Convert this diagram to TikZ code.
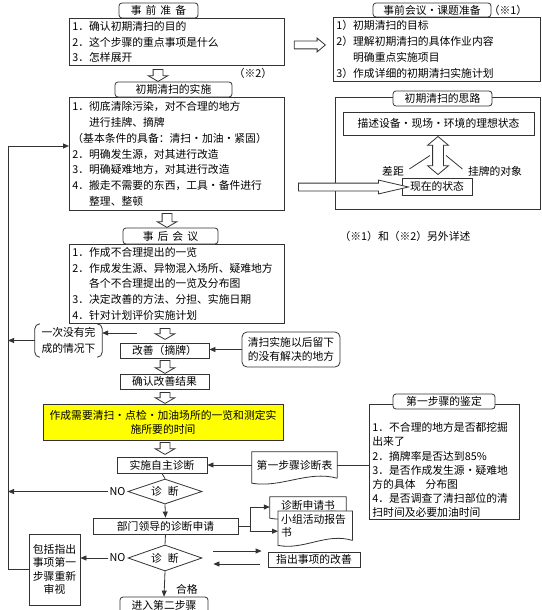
\documentclass[tikz,border=0pt]{standalone}
\usepackage{fontspec}
\setmainfont{Noto Sans CJK SC}
\usepackage{tikz}
\usetikzlibrary{arrows.meta,positioning,shapes.geometric,shapes.arrows,calc}
\definecolor{kzLine}{HTML}{333333}
\definecolor{kzYellow}{HTML}{FFFF00}
\tikzset{
  kzList/.style={
    draw=kzLine,
    line width=0.8pt,
    anchor=north west,
    align=left,
    inner xsep=3pt,
    inner ysep=0pt
  },
  kzTab/.style={
    draw=kzLine,
    line width=0.8pt,
    rounded corners=3pt,
    fill=white,
    inner sep=0pt
  },
  kzBox/.style={
    draw=kzLine,
    line width=0.8pt,
    align=center,
    inner sep=0pt
  },
  kzDecision/.style={
    diamond,
    draw=kzLine,
    line width=0.8pt,
    aspect=3,
    inner sep=0pt,
    minimum width=74pt,
    minimum height=25pt
  },
  kzSheet/.style={
    fill=white,
    inner sep=0pt
  },
  kzArrow/.style={
    -{Triangle[length=6pt,width=5pt]},
    line width=0.8pt,
    draw=kzLine
  },
  kzLink/.style={
    line width=0.8pt,
    draw=kzLine
  },
  kzHollow/.style={
    single arrow,
    draw=kzLine,
    line width=0.8pt,
    fill=white,
    inner xsep=0pt,
    single arrow head indent=0pt
  },
  kzDown/.style={
    kzHollow,
    rotate=-90,
    inner ysep=4.5pt,
    single arrow head extend=5pt,
    single arrow tip angle=120,
    minimum height=12pt
  },
  kzRight/.style={
    kzHollow,
    inner ysep=3.5pt,
    single arrow head extend=3pt
  },
  kzBoth/.style={
    double arrow,
    draw=kzLine,
    line width=0.8pt,
    fill=white,
    rotate=90,
    inner xsep=0pt,
    inner ysep=5pt,
    double arrow head extend=5pt,
    double arrow tip angle=100,
    minimum height=38pt
  }
}
\newcommand{\kzDoc}[1]{%
  \draw[kzLink] (#1.south east) -- (#1.north east) -- (#1.north west) -- ($(#1.south west)+(0,5)$)
    .. controls ($(#1.south west)!0.35!(#1.south east)+(0,10)$) and ($(#1.south west)!0.65!(#1.south east)+(0,-8)$) .. (#1.south east);}

\begin{document}
\begin{tikzpicture}[x=1pt, y=-1pt, font=\fontsize{10.8}{15.8}\selectfont]
  \useasboundingbox (0,0) rectangle (541,610);

  \node[kzList, text width=209pt, minimum height=47pt] (prep) at (69,18)
    {1．确认初期清扫的目的\\2．这个步骤的重点事项是什么\\3．怎样展开};
  \node[kzTab, minimum width=79pt, minimum height=15pt] (prepTab) at (158.5,10.5)
    {事\hspace{4pt}前\hspace{4pt}准\hspace{4pt}备};
  \node[kzDown] (prepArrow) at (158,74) {};
  \node (note2) at (253,73) {（※2）};

  \node[kzList, text width=209pt, minimum height=113pt] (impl) at (69,97)
    {1．彻底清除污染，对不合理的地方\\\phantom{1．}进行挂牌、摘牌\\（基本条件的具备：清扫・加油・紧固）\\2．明确发生源，对其进行改造\\3．明确疑难地方，对其进行改造\\4．搬走不需要的东西，工具・备件进行\\\phantom{1．}整理、整顿};
  \node[kzTab, minimum width=117pt, minimum height=15pt] (implTab) at (173.5,89.5) {初期清扫的实施};
  \node[kzDown, minimum height=14pt] (implArrow) at (167,219) {};

  \node[kzList, text width=209pt, minimum height=79pt] (after) at (69,244)
    {1．作成不合理提出的一览\\2．作成发生源、异物混入场所、疑难地方\\\phantom{1．}各个不合理提出的一览及分布图\\3．决定改善的方法、分担、实施日期\\4．针对计划评价实施计划};
  \node[kzTab, minimum width=95pt, minimum height=16pt] (afterTab) at (170.5,236)
    {事\hspace{4pt}后\hspace{4pt}会\hspace{4pt}议};

  \node[kzDown, minimum height=11pt] (afterArrow) at (165,332.5) {};
  \coordinate (branch) at (137,333);
  \node[align=center, inner sep=0pt, minimum width=67pt, minimum height=33pt] (incomplete) at (68.5,340.5)
    {一次没有完\\成的情况下};
  \node[kzBox, minimum width=89pt, minimum height=15pt] (kaizen) at (164.5,350.5) {改善（摘牌）};
  \node[kzBox, rounded corners=5pt, minimum width=98pt, minimum height=35pt, font=\fontsize{10.8}{13.5}\selectfont] (leftover) at (291,349.5)
    {清扫实施以后留下\\的没有解决的地方};
  \node[kzDown, minimum height=13pt] (kaizenArrow) at (165,365.5) {};
  \node[kzBox, minimum width=89pt, minimum height=15pt] (check) at (164.5,381.5) {确认改善结果};
  \node[kzDown, minimum height=11pt] (checkArrow) at (165,396.5) {};
  \node[kzBox, fill=kzYellow, minimum width=240pt, minimum height=36pt, font=\fontsize{10.8}{14}\selectfont] (list) at (163,422)
    {作成需要清扫・点检・加油场所的一览和测定实\\施所要的时间};
  \node[kzDown, minimum height=12pt] (listArrow) at (165,447) {};

  \node[kzBox, minimum width=90pt, minimum height=16pt] (self) at (162,465) {实施自主诊断};
  \node[kzDecision] (diagA) at (165,491.5) {诊\hspace{6pt}断};
  \node[left=1pt of diagA.west, inner sep=1pt] (noA) {NO};
  \node[kzBox, minimum width=145pt, minimum height=16pt] (leader) at (165.5,526) {部门领导的诊断申请};
  \node[kzDecision, minimum height=26pt] (diagB) at (165,558) {诊\hspace{6pt}断};
  \node[left=1pt of diagB.west, inner sep=1pt] (noB) {NO};
  \node[kzBox, rounded corners=3pt, minimum width=88pt, minimum height=16pt] (next) at (164,605) {进入第二步骤};
  \node[kzBox, minimum width=51pt, minimum height=71pt, font=\fontsize{10.8}{13.5}\selectfont] (review) at (54.5,569.5)
    {包括指出\\事项第一\\步骤重新\\审视};

  \node[kzRight, minimum height=31pt, single arrow tip angle=80] (meetArrow) at (307.5,45) {};
  \node[kzList, text width=201pt, minimum height=64pt] (meet) at (333,17)
    {1）初期清扫的目标\\2）理解初期清扫的具体作业内容\\\phantom{2）}明确重点实施项目\\3）作成详细的初期清扫实施计划};
  \node[kzTab, minimum width=118pt, minimum height=14pt] (meetTab) at (432,10) {事前会议・课题准备};
  \node (note1) at (508,10) {（※1）};

  \node[kzLink, draw, anchor=north west, inner sep=0pt, minimum width=205pt, minimum height=112pt] (idea) at (335,97) {};
  \node[kzTab, minimum width=99pt, minimum height=15pt] (ideaTab) at (442.5,98.5) {初期清扫的思路};
  \node[kzBox, minimum width=191pt, minimum height=23pt] (ideal) at (438.5,123.5) {描述设备・现场・环境的理想状态};
  \node[kzBoth] (gapArrow) at (438,155.5) {};
  \node[kzBox, minimum width=70pt, minimum height=17pt] (now) at (437,186.5) {现在的状态};
  \node (gap) at (393,171) {差距};
  \node (tag) at (495,171) {挂牌的对象};
  \node[kzRight, minimum height=110pt, single arrow tip angle=26] (nowArrow) at (345,187) {};
  \node (note) at (405,236) {（※1）和（※2）另外详述};

  \node[kzList, text width=144pt, minimum height=115pt, font=\fontsize{10.8}{14.2}\selectfont] (judge) at (369,404)
    {\rule{0pt}{25.5pt}1．不合理的地方是否都挖掘\\出来了\\2．摘牌率是否达到85\%\\3．是否作成发生源・疑难地\\方的具体\hspace{10pt}分布图\\4．是否调查了清扫部位的清\\扫时间及必要加油时间};
  \node[kzTab, minimum width=102pt, minimum height=15pt] (judgeTab) at (444,401.5) {第一步骤的鉴定};

  \node[kzSheet, minimum width=85pt, minimum height=26pt] (sheet) at (294.5,465) {第一步骤诊断表};
  \kzDoc{sheet}
  \node[kzSheet, minimum width=76pt, minimum height=16pt] (req) at (308,505) {诊断申请书};
  \kzDoc{req}
  \node[kzSheet, anchor=north west, align=left, text width=68pt, inner xsep=3pt, minimum height=29pt, font=\fontsize{10.8}{13}\selectfont] (report) at (278,511)
    {小组活动报告\\书};
  \kzDoc{report}
  \node[kzBox, minimum width=92pt, minimum height=15pt] (fix) at (314,559.5) {指出事项的改善};

  \coordinate (loopTop) at (8,146);
  \draw[kzArrow] (review.west) -| (loopTop) -- (loopTop -| impl.west);
  \draw[kzArrow] (incomplete.west) -- (incomplete.west -| loopTop);
  \draw[kzArrow] (branch) -- (branch -| incomplete.east);
  \draw[kzLink, rounded corners=5pt] ([xshift=5pt]incomplete.north west) -- (incomplete.north west) -- (incomplete.south west) -- ([xshift=5pt]incomplete.south west);
  \draw[kzLink, rounded corners=5pt] ([xshift=-5pt]incomplete.north east) -- (incomplete.north east) -- (incomplete.south east) -- ([xshift=-5pt]incomplete.south east);
  \draw[kzArrow] (leftover.west) -- (leftover.west -| kaizen.east);
  \draw[kzArrow] (sheet.west) -- (self.east);
  \draw[kzLink] (sheet.east) -- (sheet.east -| judge.west);
  \draw[kzLink] (self.south) -- (diagA.north);
  \draw[kzArrow] (noA.west) -- (noA.west -| loopTop);
  \draw[kzArrow] (diagA.south) -- (leader.north);
  \draw[kzLink] (leader.east) -- ++(12,0) coordinate (fork);
  \draw[kzArrow] (fork) |- ([yshift=-2pt]req.west);
  \draw[kzArrow] (fork) |- ([yshift=-5.5pt]report.west);
  \draw[kzLink] (leader.south) -- (diagB.north);
  \draw[kzArrow] (noB.west) -- (noB.west -| review.east);
  \draw[kzArrow] (diagB.south) -- node[right=8pt, pos=0.7] {合格} (next.north);
  \draw[kzArrow] ([xshift=11pt,yshift=7pt]diagB.east) -- ([xshift=-6pt,yshift=8.5pt]fix.west);
  \draw[kzArrow] ([xshift=-8pt,yshift=-4.5pt]fix.west) -- ([xshift=11pt,yshift=-6pt]diagB.east);
  \draw[kzLink] ([xshift=2pt,yshift=2pt]gap.east) -- ([xshift=-8pt]gapArrow.center);
  \draw[kzLink] ([xshift=8pt]gapArrow.center) -- ([xshift=-2pt,yshift=2pt]tag.west);
\end{tikzpicture}
\end{document}
